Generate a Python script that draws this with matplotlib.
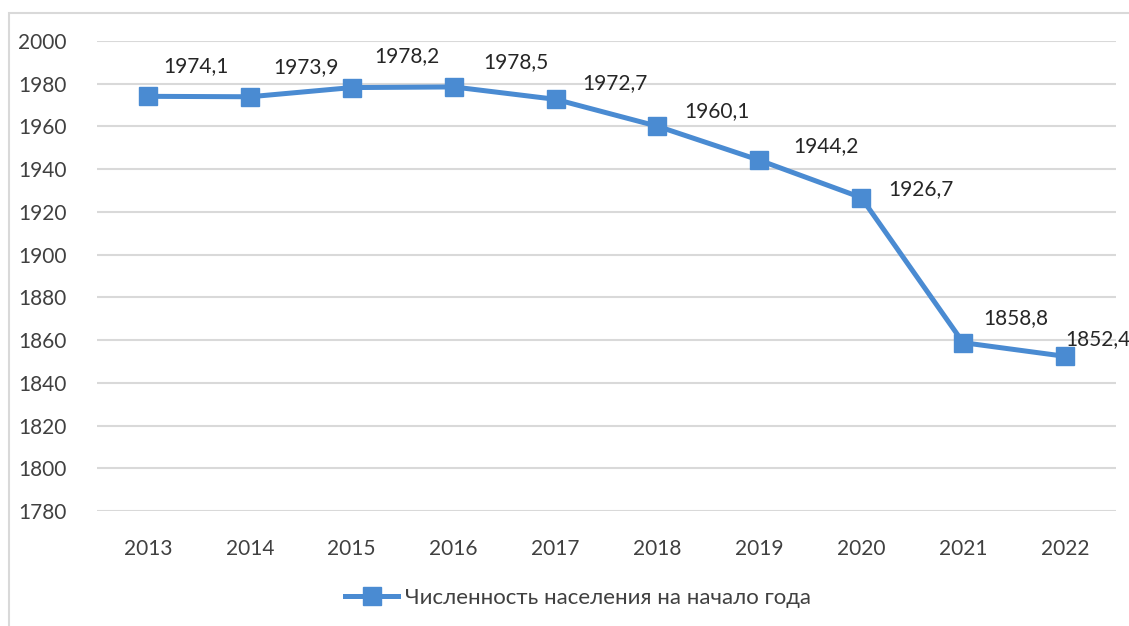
import matplotlib.pyplot as plt
from matplotlib.patches import Rectangle

plt.rcParams['font.family'] = ['Lato', 'DejaVu Sans']

years = ['2013', '2014', '2015', '2016', '2017', '2018', '2019', '2020', '2021', '2022']
population = [1974.1, 1973.9, 1978.2, 1978.5, 1972.7, 1960.1, 1944.2, 1926.7, 1858.8, 1852.4]
series_name = 'Численность населения на начало года'

# label offsets in pixels (left edge of text, relative to the point)
label_offsets = [(15, 30), (23, 30), (23, 31), (30, 25), (27, 16),
                 (27, 15), (34, 14), (27, 9), (20, 25), (0, 17)]

color = '#4a8bd2'
text_color = '#404040'

fig = plt.figure(figsize=(11.29, 6.26), dpi=100)
fig.patches.append(Rectangle((9 / 1129, -0.1), 1.2, (1 - 13 / 626) + 0.1,
                             transform=fig.transFigure, fill=False,
                             edgecolor='#d9d9d9', linewidth=1.5))
ax = fig.add_axes([97 / 1129, 1 - 511 / 626, (1116 - 97) / 1129, (511 - 41) / 626])

x = list(range(len(years)))
ax.plot(x, population, color=color, linewidth=3.6, marker='s', markersize=12.5,
        label=series_name, zorder=3)

for xi, val, (dx, dy) in zip(x, population, label_offsets):
    ax.annotate(f'{val:.1f}'.replace('.', ','), (xi, val), xytext=(dx, dy),
                textcoords='offset pixels', ha='left', va='center',
                fontsize=15, color='#262626', annotation_clip=False)

ax.set_xlim(-0.5, len(years) - 0.5)
ax.set_ylim(1780, 2000)
ax.set_yticks(range(1780, 2001, 20))
ax.set_xticks(x)
ax.set_xticklabels(years)
ax.grid(axis='y', color='#d9d9d9', linewidth=1.5)
ax.set_axisbelow(True)
for s in ax.spines.values():
    s.set_visible(False)
ax.tick_params(axis='both', length=0, labelsize=15, labelcolor=text_color)
ax.tick_params(axis='y', pad=22)
ax.tick_params(axis='x', pad=20)

fig.legend(loc='center', bbox_to_anchor=(578 / 1129, 1 - 598 / 626), frameon=False,
           fontsize=16, labelcolor=text_color, handlelength=2.4, handletextpad=0.3)

fig.savefig('out.png', dpi=100)
